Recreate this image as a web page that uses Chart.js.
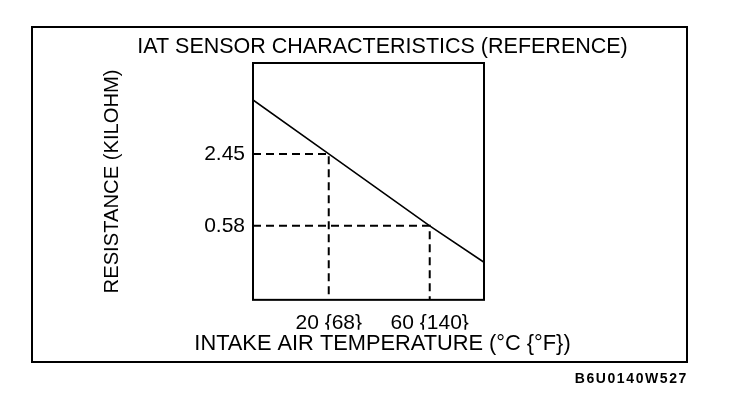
<!DOCTYPE html>
<html>
<head>
<meta charset="utf-8">
<script src="https://cdn.jsdelivr.net/npm/chart.js@4/dist/chart.umd.min.js"></script>
<style>
  html, body { margin: 0; padding: 0; background: #ffffff; }
  #wrap { width: 736px; height: 408px; }
</style>
</head>
<body>
<div id="wrap"><canvas id="c" width="736" height="408"></canvas></div>
<script>
// ---- data ----
const chartTitle = 'IAT SENSOR CHARACTERISTICS (REFERENCE)';
const xAxisTitle = 'INTAKE AIR TEMPERATURE (°C {°F})';
const yAxisTitle = 'RESISTANCE (KILOHM)';
const footerCode = 'B6U0140W527';

const temperatures = [-10, 20, 60, 81.5];        // °C
const resistances  = [7.2, 2.45, 0.58, 0.28];     // kilohm

const refTemps       = [20, 60];                  // dashed guide temperatures
const refResistances = [2.45, 0.58];              // dashed guide resistances
const xTickLabels    = ['20 {68}', '60 {140}'];
const yTickValues    = [2.45, 0.58];

const xMin = -10, xMax = 81.5;
const yMin = 0.132, yMax = 15.1;

// ---- build datasets ----
const FONT = "'Liberation Sans', Arial, sans-serif";
const mainData = temperatures.map((t, i) => ({ x: t, y: resistances[i] }));
const guideSets = refTemps.map((t, i) => ({
  data: [{ x: xMin, y: refResistances[i] }, { x: t, y: refResistances[i] }, { x: t, y: yMin }],
  borderColor: '#000',
  borderWidth: 2,
  borderDash: [8, 5],
  pointRadius: 0,
  fill: false,
  tension: 0
}));

const framePlugin = {
  id: 'frame',
  afterDraw(chart) {
    const { ctx, chartArea: a } = chart;
    ctx.save();
    ctx.strokeStyle = '#000';
    ctx.lineWidth = 2;
    ctx.strokeRect(a.left, a.top, a.right - a.left, a.bottom - a.top);
    // outer border box
    ctx.strokeRect(32, 27, 655, 335);
    // footer code
    ctx.fillStyle = '#000';
    ctx.font = 'bold 14px ' + FONT;
    if ('letterSpacing' in ctx) ctx.letterSpacing = '1.6px';
    ctx.textAlign = 'right';
    ctx.textBaseline = 'middle';
    ctx.fillText(footerCode, 688, 379);
    ctx.restore();
  }
};

new Chart(document.getElementById('c'), {
  type: 'line',
  data: {
    datasets: [
      {
        data: mainData,
        borderColor: '#000',
        borderWidth: 1.6,
        pointRadius: 0,
        fill: false,
        tension: 0
      },
      ...guideSets
    ]
  },
  options: {
    responsive: false,
    animation: false,
    events: [],
    layout: { padding: { left: 29, right: 0, top: 0, bottom: 0 } },
    plugins: {
      legend: { display: false },
      tooltip: { enabled: false },
      title: {
        display: true,
        text: chartTitle,
        color: '#000',
        font: { family: FONT, size: 21.5, weight: 'normal', lineHeight: 1.2 },
        padding: { top: 34, bottom: 3.2 }
      },
      subtitle: {
        display: true,
        position: 'bottom',
        text: xAxisTitle,
        color: '#000',
        font: { family: FONT, size: 21.8, weight: 'normal', lineHeight: 1.2 },
        padding: { top: 1.0, bottom: 51.0 }
      }
    },
    scales: {
      x: {
        type: 'linear',
        position: 'bottom',
        min: xMin,
        max: xMax,
        grid: { display: false, drawTicks: false },
        border: { display: false },
        afterBuildTicks: s => { s.ticks = refTemps.map(v => ({ value: v })); },
        afterFit: s => { s.height = 30; },
        ticks: {
          color: '#000',
          font: { family: FONT, size: 21, lineHeight: 1.2 },
          padding: 11,
          maxRotation: 0,
          autoSkip: false,
          callback: (v, i) => xTickLabels[i]
        }
      },
      y: {
        type: 'logarithmic',
        position: 'left',
        min: yMin,
        max: yMax,
        bounds: 'data',
        grid: { display: false, drawTicks: false },
        border: { display: false },
        afterBuildTicks: s => { s.ticks = yTickValues.map(v => ({ value: v })); },
        afterFit: s => { s.width = 224; },
        ticks: {
          color: '#000',
          font: { family: FONT, size: 21, lineHeight: 1.2 },
          padding: 8,
          autoSkip: false,
          callback: v => Number(v).toFixed(2)
        },
        title: {
          display: true,
          text: yAxisTitle,
          color: '#000',
          font: { family: FONT, size: 20.2, weight: 'normal', lineHeight: 1.2 },
          padding: { top: 71, bottom: 0 }
        }
      },
      y2: {
        type: 'linear',
        position: 'right',
        grid: { display: false, drawTicks: false },
        border: { display: false },
        ticks: { display: false },
        afterFit: s => { s.width = 252; }
      }
    }
  },
  plugins: [framePlugin]
});
</script>
</body>
</html>
